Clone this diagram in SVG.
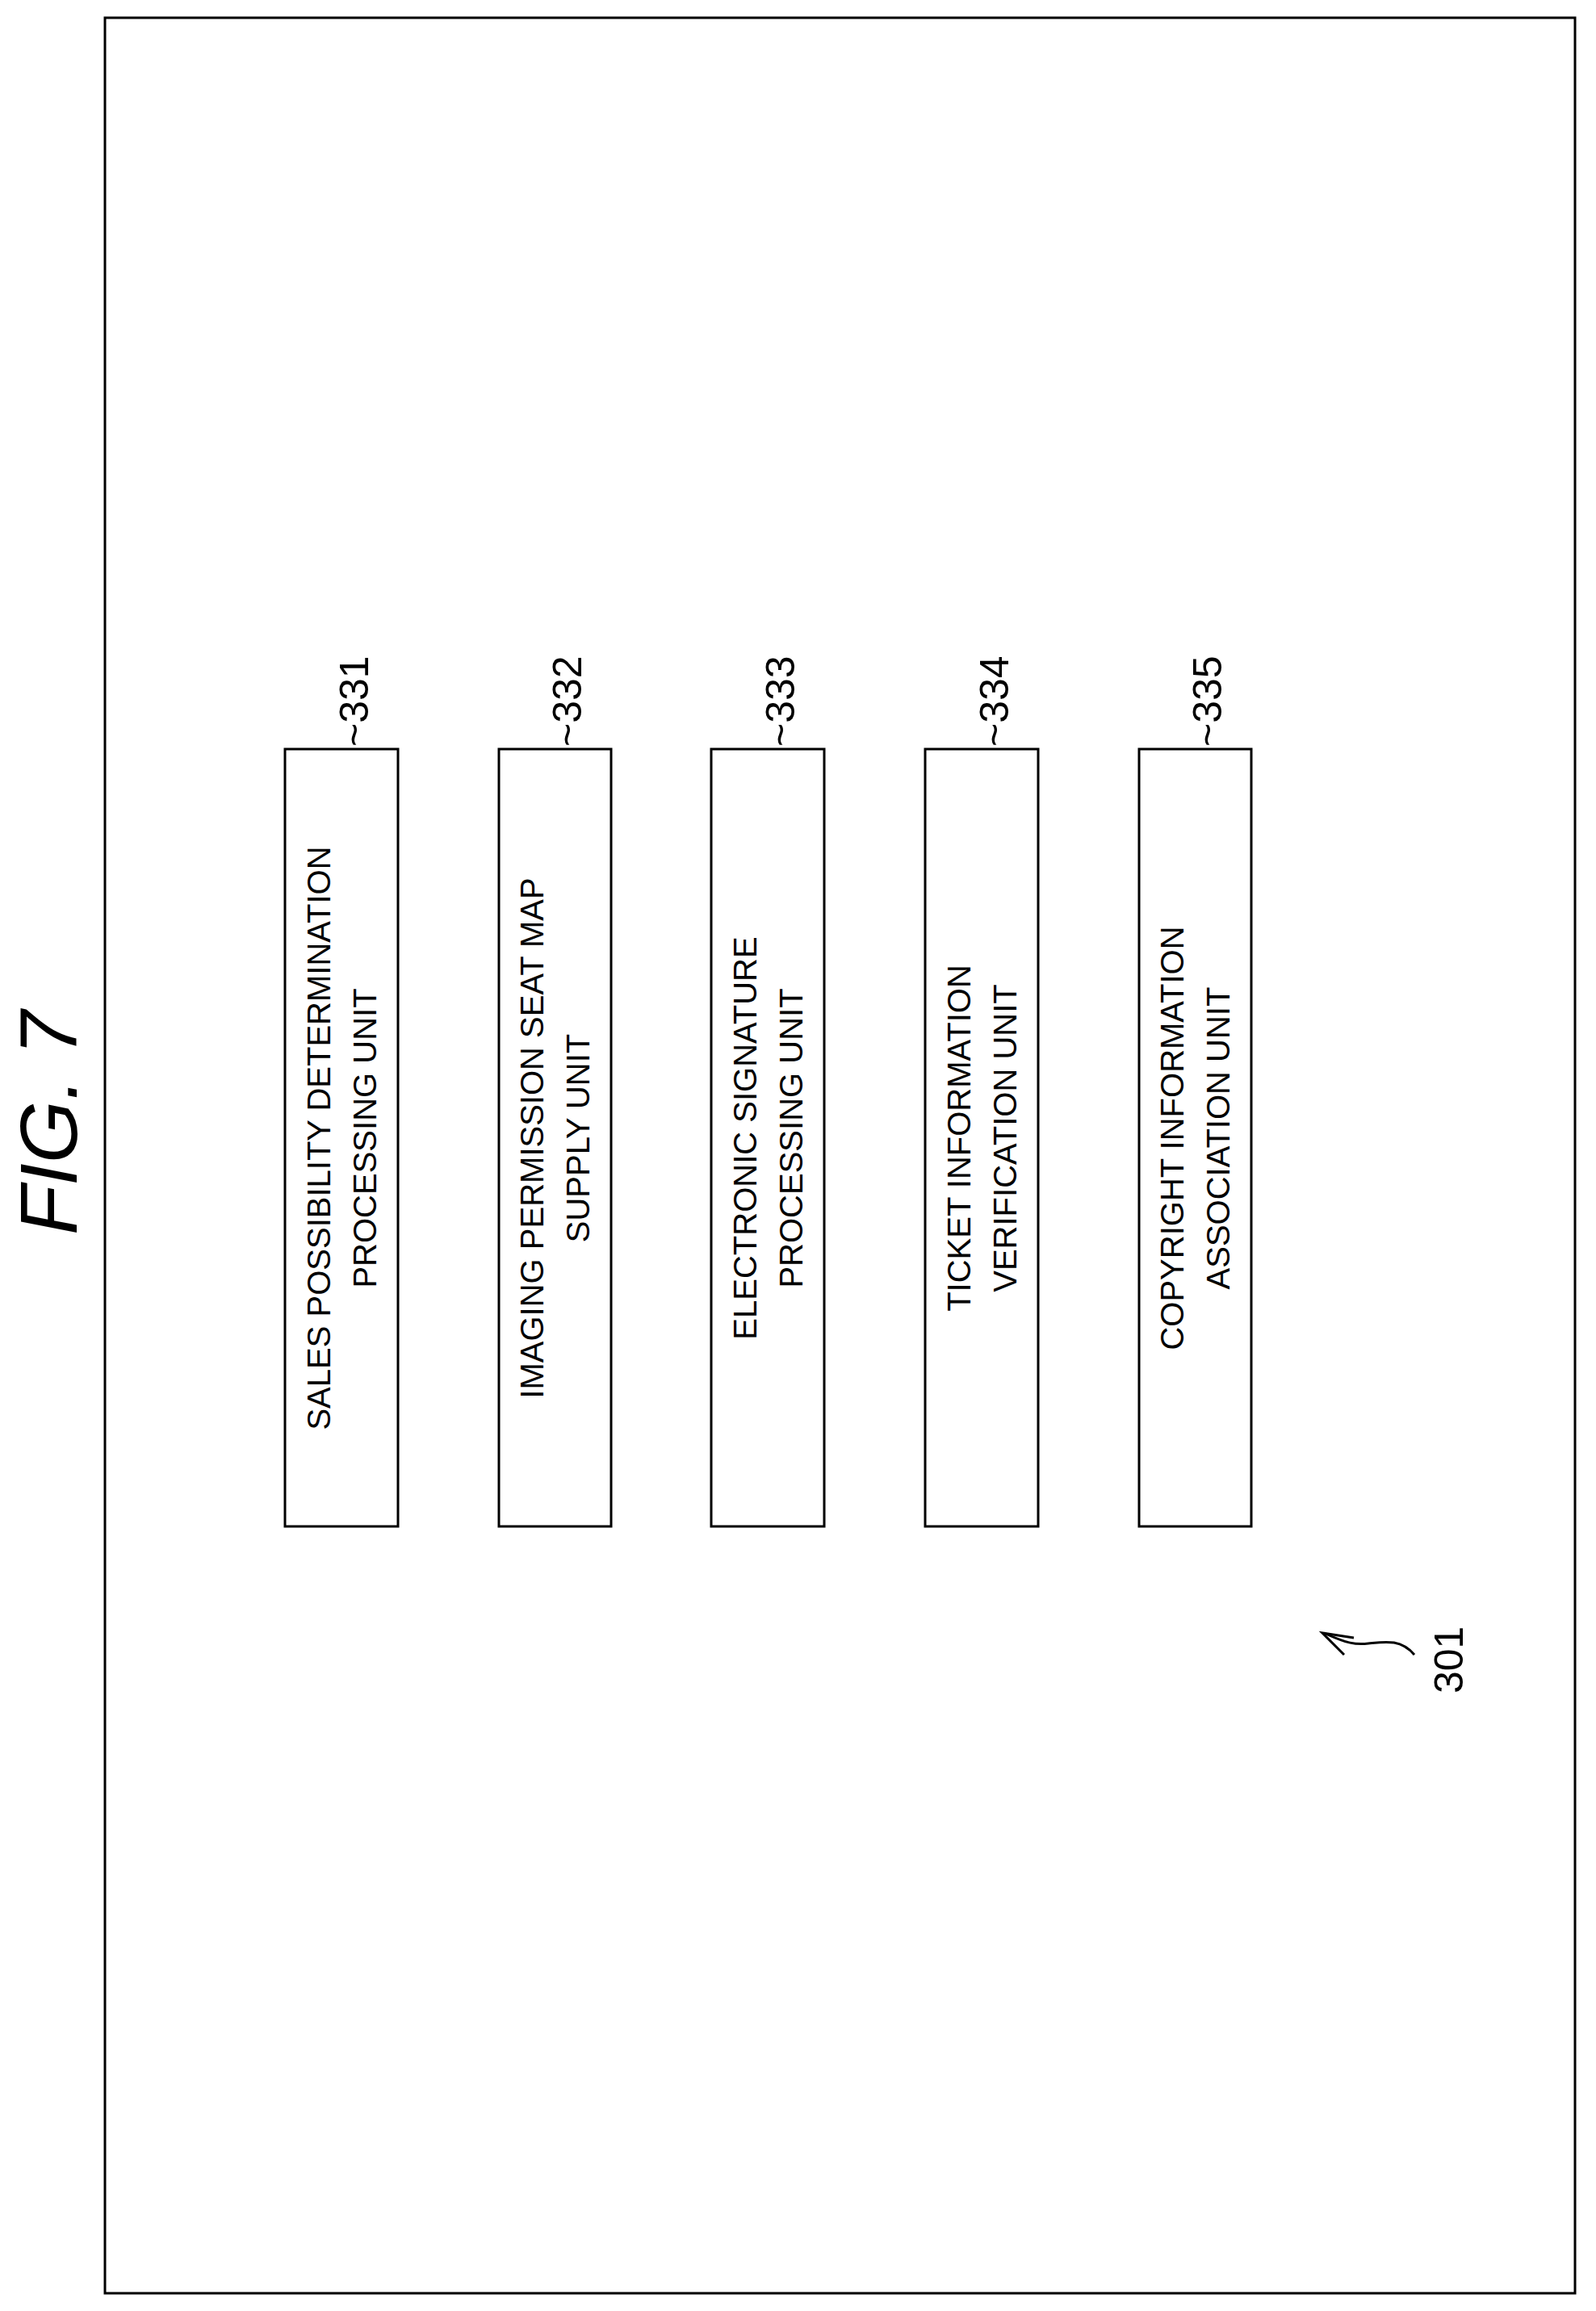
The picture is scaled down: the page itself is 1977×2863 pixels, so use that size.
<svg xmlns="http://www.w3.org/2000/svg" width="1977" height="2863" viewBox="0 0 1977 2863">
<style>
.box{fill:none;stroke:#000;stroke-width:3}
.t{font-family:"Liberation Sans",Arial,sans-serif;font-size:40px;fill:#000;text-anchor:middle}
.n{font-family:"Liberation Sans",Arial,sans-serif;font-size:50px;fill:#000}
.ln{fill:none;stroke:#000;stroke-width:3}
</style>
<rect width="1977" height="2863" fill="#fff"/>
<rect x="130" y="22" width="1821" height="2819" class="box"/>
<text transform="translate(95,1530) rotate(-90)" font-family="Liberation Sans,Arial,sans-serif" font-style="italic" font-size="100">FIG. 7</text>
<g id="n331"><rect x="353" y="928" width="140" height="963" class="box"/>
<text class="t" transform="translate(423,1410) rotate(-90)"><tspan x="0" y="-14">SALES POSSIBILITY DETERMINATION</tspan><tspan x="0" y="43">PROCESSING UNIT</tspan></text>
<text class="n" transform="translate(456,925) rotate(-90)">~331</text></g>
<g id="n332"><rect x="618" y="928" width="139" height="963" class="box"/>
<text class="t" transform="translate(687,1410) rotate(-90)"><tspan x="0" y="-14">IMAGING PERMISSION SEAT MAP</tspan><tspan x="0" y="43">SUPPLY UNIT</tspan></text>
<text class="n" transform="translate(720,925) rotate(-90)">~332</text></g>
<g id="n333"><rect x="881" y="928" width="140" height="963" class="box"/>
<text class="t" transform="translate(951,1410) rotate(-90)"><tspan x="0" y="-14">ELECTRONIC SIGNATURE</tspan><tspan x="0" y="43">PROCESSING UNIT</tspan></text>
<text class="n" transform="translate(984,925) rotate(-90)">~333</text></g>
<g id="n334"><rect x="1146" y="928" width="140" height="963" class="box"/>
<text class="t" transform="translate(1216,1410) rotate(-90)"><tspan x="0" y="-14">TICKET INFORMATION</tspan><tspan x="0" y="43">VERIFICATION UNIT</tspan></text>
<text class="n" transform="translate(1249,925) rotate(-90)">~334</text></g>
<g id="n335"><rect x="1411" y="928" width="139" height="963" class="box"/>
<text class="t" transform="translate(1480,1410) rotate(-90)"><tspan x="0" y="-14">COPYRIGHT INFORMATION</tspan><tspan x="0" y="43">ASSOCIATION UNIT</tspan></text>
<text class="n" transform="translate(1513,925) rotate(-90)">~335</text></g>
<g id="connectors">
<path class="ln" d="M1752,2050 C1735,2030 1715,2034 1695,2036 C1680,2038 1668,2036 1640,2023"/>
<path class="ln" d="M1677,2029 L1638,2023 L1665,2050"/>
</g>
<text class="n" font-size="68" transform="translate(1812,2098) rotate(-90)">301</text>
</svg>
